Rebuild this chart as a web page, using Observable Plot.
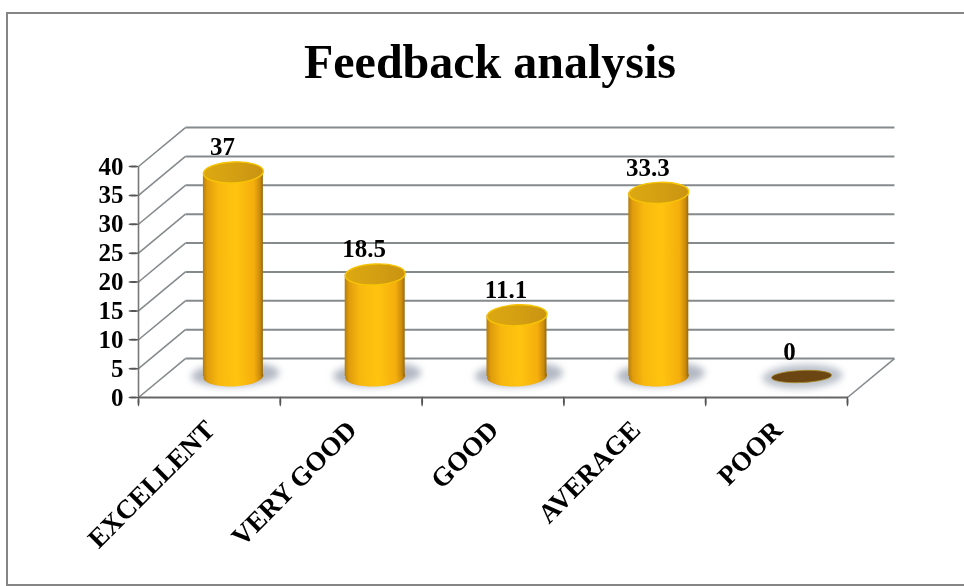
<!DOCTYPE html>
<html>
<head>
<meta charset="utf-8">
<script src="https://cdn.jsdelivr.net/npm/d3@7"></script>
<script src="https://cdn.jsdelivr.net/npm/@observablehq/plot@0.6"></script>
<style>
  html, body { margin: 0; padding: 0; background: #fff; width: 964px; height: 586px; overflow: hidden; }
  #frame { position: absolute; left: 6px; top: 12px; width: 1000px; height: 570px; border: 2.5px solid #858585; box-sizing: content-box; filter: blur(0.4px); }
  #title { position: relative; height: 100px; margin: 0; padding-left: 16px; box-sizing: border-box; text-align: center;
           font: bold 48px/124px "Liberation Serif", serif; color: #000; filter: blur(0.3px); }
  #chart { position: relative; filter: blur(0.35px); }
  #chart svg { display: block; }
</style>
</head>
<body>
<div id="frame"></div>
<h1 id="title">Feedback analysis</h1>
<div id="chart"></div>
<script>
const categories = ["EXCELLENT", "VERY GOOD", "GOOD", "AVERAGE", "POOR"];
const values = [37, 18.5, 11.1, 33.3, 0];
const valueLabels = ["37", "18.5", "11.1", "33.3", "0"];
const yTicks = [0, 5, 10, 15, 20, 25, 30, 35, 40];
const xTicks = [0, 1, 2, 3, 4, 5];

// Pseudo-3D projection: depth offsets of the back wall, in data units
const depthX = 0.331, depthY = 6.75;
const foreshorten = 0.955;      // cylinders stand mid-depth and read slightly shorter
const barHalf = 0.2115;

const rows = categories.map((name, i) => ({
  name, i, mid: i + 0.5, value: values[i], top: values[i] * foreshorten, label: valueLabels[i]
}));
const bars = rows.filter(d => d.value > 0);
const empty = rows.filter(d => d.value === 0);

function ellipse(rx, ry, deg = -2.5) {
  const a = deg * Math.PI / 180, c = Math.cos(a), s = Math.sin(a), k = 0.5523;
  const p = (x, y) => [x * c - y * s, x * s + y * c];
  return {
    draw(ctx) {
      ctx.moveTo(...p(rx, 0));
      ctx.bezierCurveTo(...p(rx, k * ry), ...p(k * rx, ry), ...p(0, ry));
      ctx.bezierCurveTo(...p(-k * rx, ry), ...p(-rx, k * ry), ...p(-rx, 0));
      ctx.bezierCurveTo(...p(-rx, -k * ry), ...p(-k * rx, -ry), ...p(0, -ry));
      ctx.bezierCurveTo(...p(k * rx, -ry), ...p(rx, -k * ry), ...p(rx, 0));
      ctx.closePath();
    }
  };
}

const serif = "Liberation Serif";
const wall = "#858a8c";
const barDx = 24, barDy = -21;

const chart = Plot.plot({
  width: 964,
  height: 486,
  marginLeft: 138,
  marginRight: 117,
  marginTop: 66,
  marginBottom: 189,
  style: { background: "transparent", overflow: "visible" },
  x: { type: "linear", domain: [0, 5], axis: null },
  y: { type: "linear", domain: [0, 40], axis: null },
  marks: [
    // back wall grid
    Plot.link(yTicks, { x1: () => depthX, x2: () => 5 + depthX, y1: d => d + depthY, y2: d => d + depthY, stroke: wall, strokeWidth: 2 }),
    // side wall diagonals
    Plot.link(yTicks, { x1: () => 0, x2: () => depthX, y1: d => d, y2: d => d + depthY, stroke: wall, strokeWidth: 1.6 }),
    // floor right edge
    Plot.link([5], { x1: d => d, x2: d => d + depthX, y1: () => 0, y2: () => depthY, stroke: wall, strokeWidth: 1.6 }),
    // front axes
    Plot.link([0], { x1: d => d, x2: d => d, y1: () => 0, y2: () => 40, stroke: "#777", strokeWidth: 1.6 }),
    Plot.link([0], { x1: () => 0, x2: () => 5, y1: d => d, y2: d => d, stroke: "#666", strokeWidth: 2 }),
    Plot.dot(yTicks, { x: () => 0, y: d => d, dx: -5, symbol: ellipse(5, 1, 0), fill: "#555" }),
    Plot.dot(xTicks, { x: d => d, y: () => 0, dy: 4, symbol: ellipse(1, 5, 0), fill: "#555" }),
    // shadows on the floor
    Plot.dot(bars, { x: "mid", y: () => 0, dx: barDx + 2, dy: barDy - 2, symbol: ellipse(44, 12), fill: "#8a94a4", fillOpacity: 0.65, imageFilter: "blur(3.5px)" }),
    Plot.dot(empty, { x: "mid", y: () => 0, dx: barDx + 2, dy: barDy, symbol: ellipse(40, 12), fill: "#8e98a8", fillOpacity: 0.6, imageFilter: "blur(3.5px)" }),
    // cylinder bodies
    Plot.dot(bars, { x: "mid", y: () => 0, dx: barDx, dy: barDy, symbol: ellipse(30, 10), fill: "url(#cyl)" }),
    Plot.rect(bars, { x1: d => d.mid - barHalf, x2: d => d.mid + barHalf, y1: () => 0, y2: "top", dx: barDx, dy: barDy, fill: "url(#cyl)" }),
    // cylinder caps
    Plot.dot(bars, { x: "mid", y: "top", dx: barDx, dy: barDy, symbol: ellipse(30, 10.5), fill: "url(#cap)", stroke: "#f7c406", strokeWidth: 1.4 }),
    // the zero disc
    Plot.dot(empty, { x: "mid", y: () => 0, dx: barDx + 1, dy: barDy, symbol: ellipse(30, 6), fill: "#6b4512", stroke: "#a98a20", strokeWidth: 0.8 }),
    // value labels
    Plot.text(rows, { x: "mid", y: "top", text: "label", dx: 13, dy: -46, fontFamily: serif, fontWeight: "bold", fontSize: 25, fill: "#000" }),
    // y tick labels
    Plot.text(yTicks, { x: () => 0, y: d => d, text: d => String(d), dx: -15, textAnchor: "end", fontFamily: serif, fontWeight: "bold", fontSize: 25, fill: "#000" }),
    // category labels
    Plot.text(rows, { x: "mid", y: () => 0, text: "name", rotate: -45, textAnchor: "end", dx: 1, dy: 28, fontFamily: serif, fontWeight: "bold", fontSize: 27, fill: "#000" })
  ]
});

const defs = d3.select(chart).insert("defs", ":first-child");
const cyl = defs.append("linearGradient").attr("id", "cyl").attr("x1", 0).attr("x2", 1).attr("y1", 0).attr("y2", 0);
[[0, "#b47d0c"], [0.07, "#e09c0c"], [0.25, "#f8b80e"], [0.55, "#ffc40f"], [0.85, "#f5ae0d"], [0.95, "#cc8c0c"], [1, "#96680c"]]
  .forEach(([o, c]) => cyl.append("stop").attr("offset", o).attr("stop-color", c));
const cap = defs.append("linearGradient").attr("id", "cap").attr("x1", 0).attr("x2", 1).attr("y1", 0).attr("y2", 0);
[[0, "#dca812"], [0.5, "#d4a012"], [1, "#c99312"]]
  .forEach(([o, c]) => cap.append("stop").attr("offset", o).attr("stop-color", c));

document.getElementById("chart").appendChild(chart);
</script>
</body>
</html>
